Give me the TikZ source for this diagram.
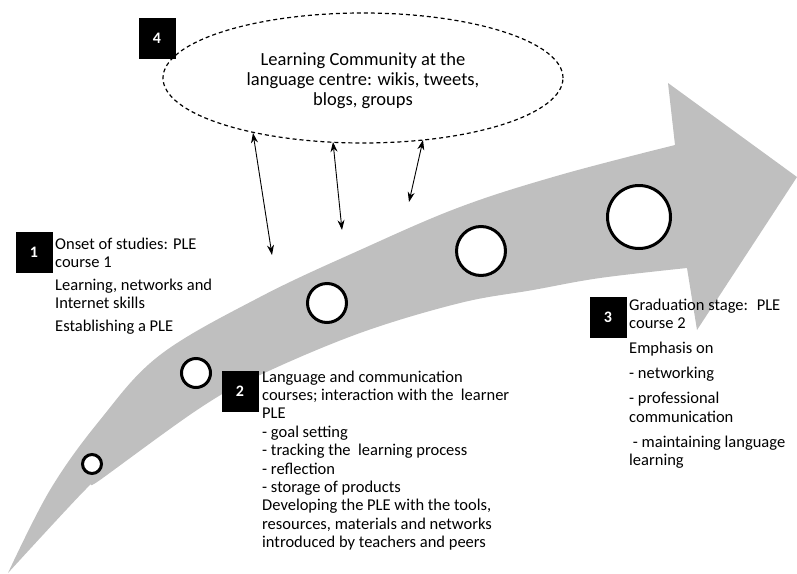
\documentclass[tikz,border=0pt]{standalone}
\usepackage{fontspec}
\setmainfont{Carlito}
\usetikzlibrary{arrows.meta,shapes.geometric}
\begin{document}
\begin{tikzpicture}[x=1pt,y=-1pt,
  numbox/.style={fill=black,text=white,minimum width=37pt,minimum height=41pt,inner sep=0pt,font=\fontsize{16}{16}\selectfont\bfseries},
  stage/.style={draw=black,line width=3pt,fill=white,circle,inner sep=0pt},
  txt/.style={align=left,inner sep=0pt,anchor=base west,font=\fontsize{16.5}{18}\selectfont},
  link/.style={line width=0.9pt,{Stealth[length=10pt,width=7pt]}-{Stealth[length=10pt,width=7pt]}},
  community/.style={draw=black,dashed,dash pattern=on 4pt off 3pt,line width=1.2pt,ellipse,minimum width=400pt,minimum height=130pt,inner sep=0pt},
  commtext/.style={align=center,inner sep=0pt,font=\fontsize{18.5}{20}\selectfont}
]
\useasboundingbox (0,0) rectangle (797,573);
% big curved arrow
\fill[gray!50] (8,573) -- plot[smooth,tension=0.6] coordinates {(8,573) (50,490) (100,420) (160,355) (260,297) (360,250) (460,207) (560,175) (675,145)}
  -- (668,83) -- (797,177) -- (697,330) -- (687,268)
  -- plot[smooth,tension=0.6] coordinates {(687,268) (600,278) (533,290) (460,303) (360,333) (260,375) (200,408) (100,480) (85,490) (8,573)} -- cycle;
% stages
\node[stage,minimum size=19pt] (c1) at (92,464) {};
\node[stage,minimum size=29pt] (c2) at (196,373) {};
\node[stage,minimum size=39pt] (c3) at (327,303) {};
\node[stage,minimum size=49pt] (c4) at (481,251) {};
\node[stage,minimum size=63pt] (c5) at (639,217) {};
% community
\node[community] (comm) at (363,78) {};
\node[commtext] (commt) at (363,81) {Learning Community at the\\language centre: wikis, tweets,\\blogs, groups};
\coordinate (a1s) at (253,133); \coordinate (a1e) at (272,255);
\coordinate (a2s) at (333,142); \coordinate (a2e) at (342,230);
\coordinate (a3s) at (423,140); \coordinate (a3e) at (409,202);
\draw[link] (a1s) -- (a1e);
\draw[link] (a2s) -- (a2e);
\draw[link] (a3s) -- (a3e);
% number boxes
\node[numbox] (n1) at (34,252) {1};
\node[numbox] (n2) at (240,391) {2};
\node[numbox] (n3) at (608,317) {3};
\node[numbox] (n4) at (157,38) {4};
% texts (anchored at the baseline of the last line)
\node[txt] (t1) at (55,331) {Onset of studies: PLE\\course 1\\[5pt]Learning, networks and\\Internet skills\\[5pt]Establishing a PLE};
\node[txt,font=\fontsize{16.5}{18.4}\selectfont] (t2) at (262,547.6) {Language and communication\\courses; interaction with the~ learner\\PLE\\- goal setting\\- tracking the~ learning process\\- reflection\\- storage of products\\Developing the PLE with the tools,\\resources, materials and networks\\introduced by teachers and peers};
\node[txt] (t3) at (629,465) {Graduation stage:~ PLE\\course 2\\[7pt]Emphasis on\\[7pt]- networking\\[7pt]- professional\\[1pt]communication\\[7pt]\ - maintaining language\\learning};
\end{tikzpicture}
\end{document}
